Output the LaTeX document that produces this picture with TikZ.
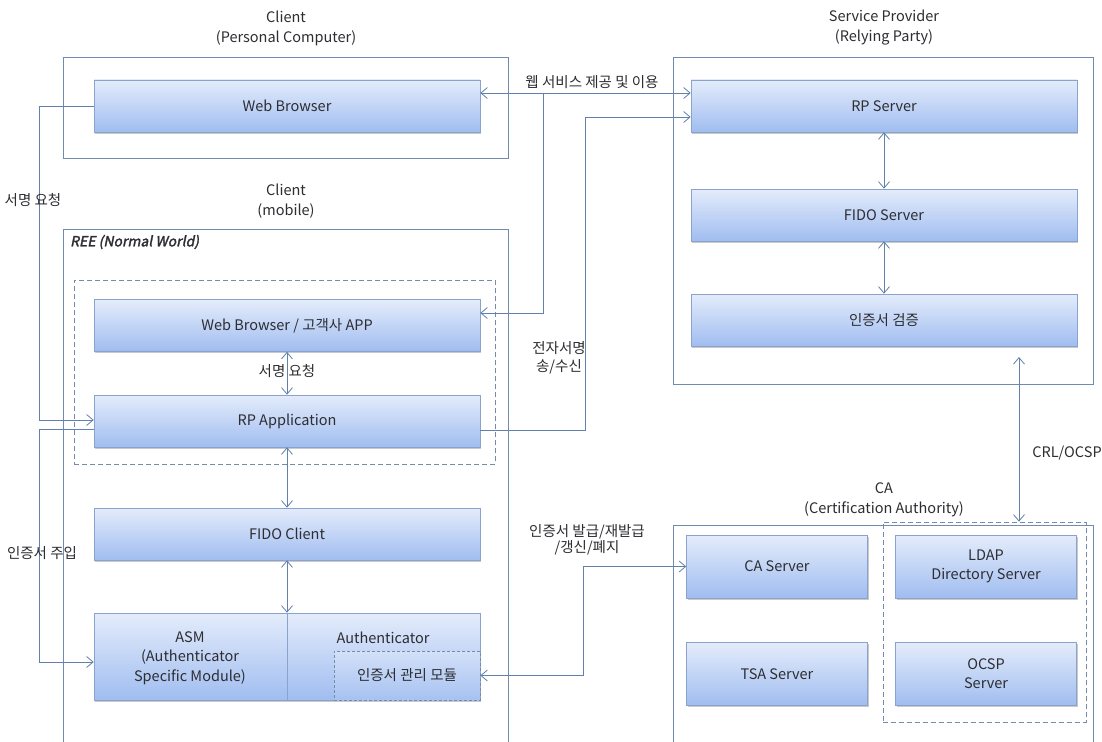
\documentclass[tikz,border=0pt]{standalone}
\usepackage{fontspec}
\setmainfont{Noto Sans CJK KR}[AutoFakeSlant=0.2,AutoFakeBold=2]
\usetikzlibrary{arrows.meta,shadows}

\definecolor{frameline}{RGB}{112,138,176}
\definecolor{wire}{RGB}{98,128,172}
\definecolor{boxline}{RGB}{138,163,205}
\definecolor{boxtop}{RGB}{228,236,251}
\definecolor{boxbot}{RGB}{160,189,240}
\definecolor{dashline}{RGB}{118,138,170}
\definecolor{txt}{RGB}{45,45,50}

\begin{document}
\begin{tikzpicture}[x=1pt,y=-1pt,
  >={Straight Barb[length=6.5pt,width=11pt,line width=0.8pt]},
  every node/.style={text=txt,font=\fontsize{14.5}{20}\selectfont},
  frame/.style={draw=frameline,line width=0.8pt,fill=none,inner sep=0pt},
  groupbox/.style={draw=dashline,dashed,dash pattern=on 5pt off 3pt,line width=0.7pt,inner sep=0pt},
  compbox/.style={draw=boxline,line width=0.6pt,top color=boxtop,bottom color=boxbot,
    inner sep=0pt,align=center,
    drop shadow={shadow xshift=1.2pt,shadow yshift=-1.8pt,opacity=0.35,fill=black!60}},
  wide/.style={compbox,minimum width=386pt,minimum height=52pt},
  srv/.style={compbox,minimum width=181pt,minimum height=63pt},
  title/.style={align=center,inner sep=0pt},
  note/.style={align=center,inner sep=0pt},
  link/.style={draw=wire,line width=0.8pt},
  tip/.style={->},
  tips/.style={<->}
]
\useasboundingbox[fill=white] (0,0) rectangle (1102,741);

% ---------- containers ----------
\node[frame,minimum width=445pt,minimum height=101pt] (pc) at (285.5,107.5) {};
\node[frame,minimum width=420pt,minimum height=327pt] (sp) at (883,220.5) {};
\node[frame,minimum width=445pt,minimum height=531pt] (mob) at (285.5,494.5) {};
\node[frame,minimum width=420pt,minimum height=235pt] (ca) at (883,642.5) {};

\node[title] (pct) at (286,28) {Client\\(Personal Computer)};
\node[title] (spt) at (884,28) {Service Provider\\(Relying Party)};
\node[title] (mobt) at (286,201) {Client\\(mobile)};
\node[title] (cat) at (884,500) {CA\\(Certification Authority)};
\node[anchor=west,inner sep=0pt,font=\fontsize{14}{16}\bfseries\itshape] (ree) at (70,242) {REE (Normal World)};

\node[groupbox,minimum width=421pt,minimum height=184pt] (appgrp) at (284.5,372) {};
\node[groupbox,minimum width=203pt,minimum height=200pt] (dirgrp) at (984.5,622) {};

% ---------- components ----------
\node[wide] (wbpc) at (287,106) {Web Browser};
\node[wide] (rps) at (884,106) {RP Server};
\node[wide] (fidos) at (884,215) {FIDO Server};
\node[wide] (certv) at (884,320) {인증서 검증};
\node[wide] (wbapp) at (287,325.5) {Web Browser / 고객사 APP};
\node[wide] (rpapp) at (287,421) {RP Application};
\node[wide] (fidoc) at (287,534) {FIDO Client};
\node[wide,minimum height=87pt] (asm) at (287,656.5) {};
\draw[boxline,line width=0.8pt] (asm.north) -- (asm.south);
\node[note,font=\fontsize{14.5}{19.5}\selectfont] (asmt) at (190,658) {ASM\\(Authenticator\\Specific Module)};
\node[inner sep=0pt] (autht) at (383,638) {Authenticator};
\node[draw=dashline,dashed,dash pattern=on 3pt off 2pt,line width=0.6pt,
      top color=boxtop!75!boxbot,bottom color=boxbot!90!boxtop,
      minimum width=146pt,minimum height=49pt,inner sep=0pt] (certmod) at (407,675.5) {인증서 관리 모듈};

\node[srv] (casrv) at (777,566.5) {CA Server};
\node[srv] (tsa) at (777,674) {TSA Server};
\node[srv,font=\fontsize{14.5}{19}\selectfont] (ldap) at (986,566.5) {LDAP\\Directory Server};
\node[srv,font=\fontsize{14.5}{19}\selectfont] (ocsp) at (986,674) {OCSP\\Server};

% ---------- connectors ----------
% web service between the PC browser and the RP server, branching to the mobile app
\coordinate (wbpcout) at ([yshift=13pt]wbpc.east);
\coordinate (rpsin1) at ([yshift=13pt]rps.west);
\coordinate (branch) at (543,93);
\coordinate (wbappin) at ([yshift=12.5pt]wbapp.east);
\draw[link,tips] (wbpcout) -- (rpsin1);
\draw[link,tip] (branch) |- (wbappin);
\node[inner sep=0pt] (webl) at (592,82) {웹 서비스 제공 및 이용};

% signature exchange between RP application and RP server
\coordinate (rpappout) at ([yshift=-9pt]rpapp.east);
\coordinate (rpsin2) at ([yshift=-11pt]rps.west);
\coordinate (sigx) at (585,0);
\draw[link,tip] (rpappout) -| (sigx |- rpsin2) -- (rpsin2);
\node[note,font=\fontsize{14.5}{18}\selectfont] (sigl) at (559,358) {전자서명\\송/수신};

% signature request from the PC browser
\coordinate (lx) at (39,0);
\coordinate (rpappin) at ([yshift=1pt]rpapp.west);
\draw[link,tip] (wbpc.west) -| (lx |- rpappin) -- (rpappin);
\node[inner sep=0pt] (reql) at (33,200) {서명 요청};

% certificate injection into the ASM
\coordinate (rpappout2) at ([yshift=-8pt]rpapp.west);
\coordinate (asmin) at ([yshift=-5.5pt]asm.west);
\draw[link,tip] (rpappout2) -| (lx |- asmin) -- (asmin);
\node[inner sep=0pt] (injl) at (42,553) {인증서 주입};

% vertical links inside the mobile client
\draw[link,tips] (wbapp.south) -- (rpapp.north);
\node[inner sep=0pt] (req2) at (287,371) {서명 요청};
\draw[link,tips] (rpapp.south) -- (fidoc.north);
\draw[link,tips] (fidoc.south) -- (asm.north);

% vertical links inside the service provider
\draw[link,tips] (rps.south) -- (fidos.north);
\draw[link,tips] (fidos.south) -- (certv.north);

% certificate lifecycle between the module and the CA server
\coordinate (issx) at (583,0);
\draw[link,tips] (certmod.east) -| (issx |- casrv.west) -- (casrv.west);
\node[note,font=\fontsize{14.5}{16}\selectfont] (issl) at (587,540) {인증서 발급/재발급\\/갱신/폐지};

% revocation checking
\coordinate (crltop) at (1019,357);
\draw[link,tips] (crltop) -- (crltop |- dirgrp.north);
\node[inner sep=0pt] (crll) at (1067,453) {CRL/OCSP};
\end{tikzpicture}
\end{document}
